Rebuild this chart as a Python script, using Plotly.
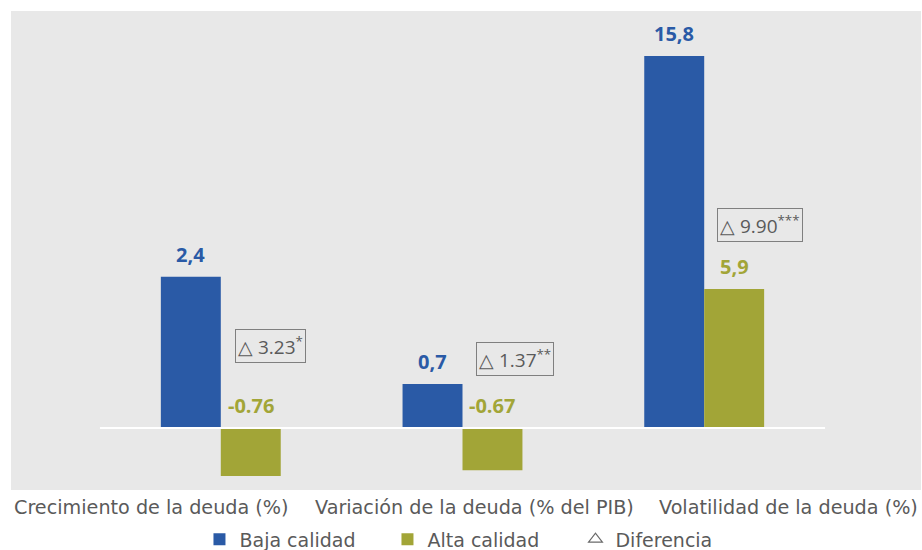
import plotly.graph_objects as go

# ---- data ----
categories = ["Crecimiento de la deuda (%)", "Variación de la deuda (% del PIB)", "Volatilidad de la deuda (%)"]
series_names = ["Baja calidad", "Alta calidad", "Diferencia"]
baja = [2.4, 0.7, 15.8]
alta = [-0.76, -0.67, 5.9]
baja_labels = ["2,4", "0,7", "15,8"]
alta_labels = ["-0.76", "-0.67", "5,9"]
diff_values = ["3.23", "1.37", "9.90"]
diff_stars = ["*", "**", "***"]

# ---- style / layout constants ----
BLUE = "#2A5AA6"
OLIVE = "#A2A537"
GRAY_TXT = "#5A5A5A"
BG = "#E8E8E8"
BAR_W = 0.248
# first two categories share one scale, the third one uses its own (y2)
axis_of = ["y", "y", "y2"]
xpos = [0, 1, 2]
# delta box positions: (x offset from category centre, y in that axis' units)
diff_pos = [(0.207, 1.30), (0.217, 1.10), (0.231, 8.64)]

fig = go.Figure()

def add_bars(vals, name, color, offset):
    shown = False
    for ax in ["y", "y2"]:
        idx = [i for i in range(3) if axis_of[i] == ax]
        fig.add_trace(go.Bar(
            x=[xpos[i] for i in idx], y=[vals[i] for i in idx],
            name=name, legendgroup=name, showlegend=not shown,
            marker=dict(color=color, line=dict(width=0)),
            width=BAR_W, offset=offset, yaxis=ax,
            hoverinfo="skip",
        ))
        shown = True

add_bars(baja, series_names[0], BLUE, -BAR_W)
add_bars(alta, series_names[1], OLIVE, 0.0)

fig.add_trace(go.Scatter(
    x=[None], y=[None], mode="markers", name=series_names[2],
    marker=dict(symbol="triangle-up-open", size=12, color="#6A6A6A", line=dict(width=1.2)),
))

annotations = []
for i in range(3):
    ax = axis_of[i]
    for vals, labs, col, dx in [(baja, baja_labels, BLUE, -BAR_W / 2), (alta, alta_labels, OLIVE, BAR_W / 2)]:
        v = vals[i]
        annotations.append(dict(
            x=xpos[i] + dx, y=max(v, 0), xref="x", yref=ax,
            text=labs[i], showarrow=False, yanchor="bottom", yshift=7,
            font=dict(family="Open Sans", size=20, color=col, weight=700),
        ))
    ox, oy = diff_pos[i]
    annotations.append(dict(
        x=xpos[i] + ox, y=oy, xref="x", yref=ax,
        text="△ " + diff_values[i] + "<sup>" + diff_stars[i] + "</sup>",
        showarrow=False, xanchor="center", yanchor="middle",
        bordercolor="#7F7F7F", borderwidth=1, borderpad=2,
        font=dict(family="Open Sans", size=19, color=GRAY_TXT),
    ))

cat_x = [0.001, 0.5088, 0.999]
cat_anchor = ["left", "center", "right"]
for i, c in enumerate(categories):
    annotations.append(dict(
        x=cat_x[i], y=-0.036, xref="paper", yref="paper", text=c,
        showarrow=False, xanchor=cat_anchor[i], yanchor="middle",
        font=dict(family="DejaVu Sans", size=19.2, color=GRAY_TXT),
    ))

fig.update_layout(
    width=922, height=550,
    margin=dict(l=11, r=1, t=11, b=60, autoexpand=False),
    paper_bgcolor="white", plot_bgcolor=BG,
    barmode="overlay",
    showlegend=True,
    legend=dict(orientation="h", x=0.517, xanchor="center", y=-0.103, yanchor="middle",
                entrywidth=143, entrywidthmode="pixels",
                font=dict(family="DejaVu Sans", size=19, color=GRAY_TXT),
                bgcolor="rgba(0,0,0,0)"),
    xaxis=dict(range=[-0.868, 2.897], showticklabels=False, showgrid=False, zeroline=False, ticks=""),
    yaxis=dict(range=[-0.984, 6.619], visible=False, showgrid=False, zeroline=False),
    yaxis2=dict(range=[-2.633, 17.707], overlaying="y", visible=False, showgrid=False, zeroline=False),
    annotations=annotations,
    shapes=[dict(type="line", xref="x", yref="y", x0=-0.5, x1=2.5, y0=0, y1=0,
                 line=dict(color="white", width=2), layer="above")],
)

fig.write_html("out.html", config={"displayModeBar": False},
               post_script="document.body.style.margin='0';document.body.style.overflow='hidden';")
